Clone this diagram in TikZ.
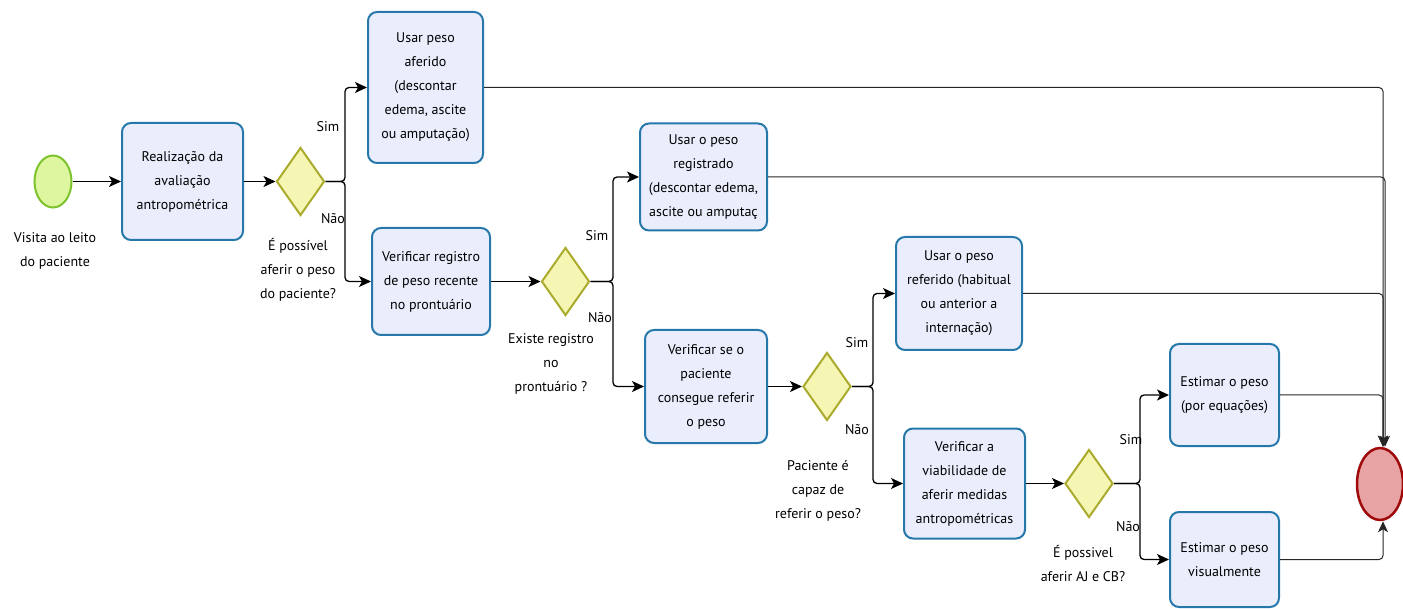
\documentclass[tikz,border=0pt]{standalone}
\usepackage{fontspec}
\setmainfont{PT Sans}
\usetikzlibrary{shapes.geometric,arrows.meta}
\definecolor{taskfill}{RGB}{234,238,252}
\definecolor{taskline}{RGB}{38,120,170}
\definecolor{gatefill}{RGB}{245,245,180}
\definecolor{gateline}{RGB}{170,170,45}
\definecolor{startfill}{RGB}{222,246,160}
\definecolor{startline}{RGB}{125,195,45}
\definecolor{endfill}{RGB}{232,164,164}
\definecolor{endline}{RGB}{160,10,10}
\begin{document}
\begin{tikzpicture}[x=1pt,y=-1pt,
  every node/.style={font=\fontsize{14}{24}\selectfont},
  task/.style={draw=taskline, fill=taskfill, line width=2pt, rounded corners=9pt, align=center, inner sep=0pt},
  gate/.style={diamond, draw=gateline, fill=gatefill, line width=2pt, minimum width=48pt, minimum height=68pt, inner sep=0pt},
  flow/.style={-{Stealth[length=12pt,width=11pt,inset=3pt]}, line width=1.3pt, rounded corners=4pt},
  endflow/.style={-{Stealth[length=11pt,width=10pt,inset=3pt]}, line width=1pt, draw=black!85, rounded corners=4pt},
  lbl/.style={align=center, inner sep=0pt}
]
\useasboundingbox (0,0) rectangle (1403,609);

% events
\node[ellipse, draw=startline, fill=startfill, line width=2pt, minimum width=37pt, minimum height=52pt, inner sep=0pt] (start) at (53,181.5) {};
\node[ellipse, draw=endline, fill=endfill, line width=2.5pt, minimum width=46pt, minimum height=72pt, inner sep=0pt] (endev) at (1380,484) {};

% tasks
\node[task, minimum width=121pt, minimum height=117pt] (t1) at (182.5,181.5) {Realização da\\avaliação\\antropométrica};
\node[task, minimum width=115pt, minimum height=151pt] (t2) at (425.5,87.5) {Usar peso\\aferido\\(descontar\\edema, ascite\\ou amputação)};
\node[task, minimum width=118pt, minimum height=107pt] (t3) at (431,281.5) {Verificar registro\\de peso recente\\no prontuário};
\node[task, minimum width=127pt, minimum height=107pt] (t4) at (703.5,177) {Usar o peso\\registrado\\(descontar edema,\\ascite ou amputaç};
\node[task, minimum width=122pt, minimum height=113pt] (t5) at (706,386.5) {Verificar se o\\paciente\\consegue referir\\o peso};
\node[task, minimum width=126pt, minimum height=113pt] (t6) at (959,293.5) {Usar o peso\\referido (habitual\\ou anterior a\\internação)};
\node[task, minimum width=121pt, minimum height=110pt] (t7) at (964.5,483.5) {Verificar a\\viabilidade de\\aferir medidas\\antropométricas};
\node[task, minimum width=109pt, minimum height=102pt] (t8) at (1224.5,395) {Estimar o peso\\(por equações)};
\node[task, minimum width=109pt, minimum height=95pt] (t9) at (1224.5,559.5) {Estimar o peso\\visualmente};

% gateways
\node[gate] (d1) at (300.5,181.5) {};
\node[gate] (d2) at (565.5,281.5) {};
\node[gate] (d3) at (827,386.5) {};
\node[gate] (d4) at (1089,483.5) {};

% captions
\node[lbl] (cs) at (55,251) {Visita ao leito\\do paciente};
\node[lbl] (c1) at (298,270) {É possível\\aferir o peso\\do paciente?};
\node[lbl] (c2) at (551,364) {Existe registro\\no\\prontuário ?};
\node[lbl] (c3) at (818,491) {Paciente é\\capaz de\\referir o peso?};
\node[lbl] (c4) at (1083,563) {É possivel\\aferir AJ e CB?};

% branch points
\coordinate (b1) at (345,181.5);
\coordinate (b2) at (613,281.5);
\coordinate (b3) at (873,386.5);
\coordinate (b4) at (1140,483.5);

% sequence flows
\draw[flow] (start.east) -- (t1.west);
\draw[flow] (t1.east) -- (d1.west);
\draw[flow] (d1.east) -- (b1) |- (t2.west);
\draw[flow] (d1.east) -- (b1) |- (t3.west);
\draw[flow] (t3.east) -- (d2.west);
\draw[flow] (d2.east) -- (b2) |- (t4.west);
\draw[flow] (d2.east) -- (b2) |- (t5.west);
\draw[flow] (t5.east) -- (d3.west);
\draw[flow] (d3.east) -- (b3) |- (t6.west);
\draw[flow] (d3.east) -- (b3) |- (t7.west);
\draw[flow] (t7.east) -- (d4.west);
\draw[flow] (d4.east) -- (b4) |- (t8.west);
\draw[flow] (d4.east) -- (b4) |- (t9.west);

\draw[endflow] (t2.east) -| ([xshift=3pt]endev.north);
\draw[endflow] (t4.east) -| ([xshift=5pt]endev.north);
\draw[endflow] (t6.east) -| ([xshift=3pt]endev.north);
\draw[endflow] (t8.east) -| ([xshift=3pt]endev.north);
\draw[endflow] (t9.east) -| ([xshift=3pt]endev.south);

% branch labels
\node[lbl] (s1) at (328,127) {Sim};
\node[lbl] (n1) at (333,219) {Não};
\node[lbl] (s2) at (597,236) {Sim};
\node[lbl] (n2) at (600,318) {Não};
\node[lbl] (s3) at (857,343) {Sim};
\node[lbl] (n3) at (857,430) {Não};
\node[lbl] (s4) at (1131,440) {Sim};
\node[lbl] (n4) at (1128,527) {Não};
\end{tikzpicture}
\end{document}
